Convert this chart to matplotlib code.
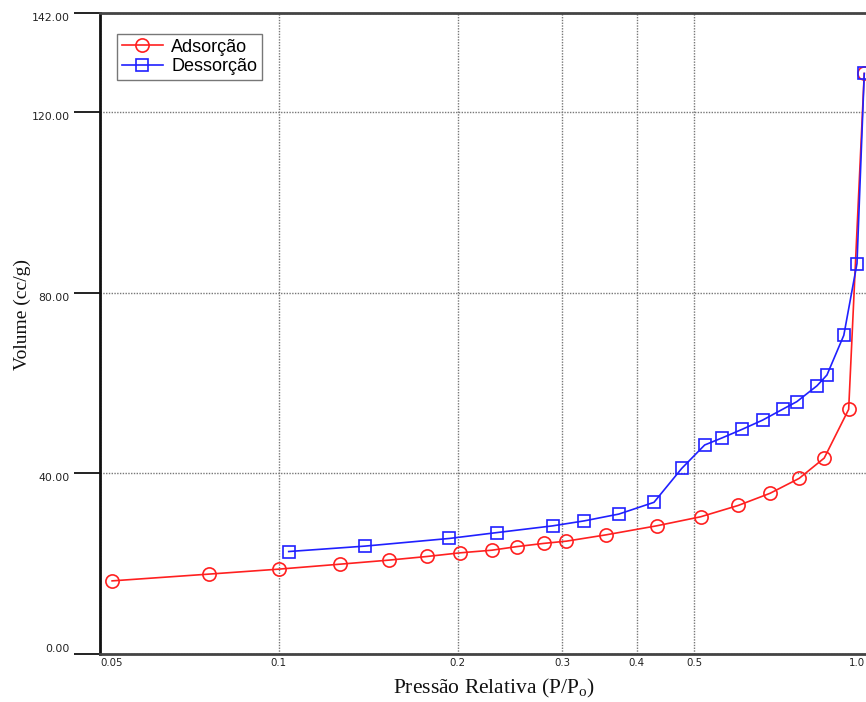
import matplotlib
matplotlib.use("Agg")
import matplotlib.pyplot as plt
import matplotlib.transforms as mtransforms
from matplotlib.ticker import FixedLocator, FixedFormatter, NullLocator

# isotherm
ads_p = [0.0524, 0.0763, 0.100, 0.1268, 0.1533, 0.1775, 0.2014, 0.2285, 0.2518,
         0.2791, 0.3048, 0.3555, 0.4326, 0.5128, 0.5929, 0.671, 0.751, 0.8277,
         0.910, 0.9667]
ads_v = [16.2, 17.7, 18.8, 19.9, 20.8, 21.6, 22.4, 23.0, 23.8,
         24.5, 25.0, 26.4, 28.4, 30.4, 32.9, 35.6, 38.9, 43.4,
         54.2, 128.6]

des_p = [0.9667, 0.9398, 0.893, 0.8365, 0.8046, 0.7443, 0.7042, 0.6517, 0.6029,
         0.5578, 0.5208, 0.4764, 0.4279, 0.3735, 0.3268, 0.2894, 0.2329, 0.1937,
         0.1396, 0.1039]
des_v = [128.6, 86.5, 70.6, 61.8, 59.4, 55.9, 54.2, 51.8, 49.8,
         47.9, 46.3, 41.1, 33.6, 31.0, 29.5, 28.4, 26.9, 25.6,
         23.9, 22.7]

x_ticks = [0.05, 0.1, 0.2, 0.3, 0.4, 0.5, 1.0]
x_tick_labels = ["0.05", "0.1", "0.2", "0.3", "0.4", "0.5", "1.0"]
y_ticks = [0, 40, 80, 120, 142]
y_tick_labels = ["0.00", "40.00", "80.00", "120.00", "142.00"]

plt.rcParams["mathtext.fontset"] = "custom"
plt.rcParams["mathtext.rm"] = "Liberation Serif"
plt.rcParams["mathtext.it"] = "Liberation Serif:italic"

W, H = 866, 702
fig = plt.figure(figsize=(W / 100, H / 100), dpi=100)
# axes runs a bit past the right edge, as in the original crop
ax = fig.add_axes([100 / W, (H - 654) / H, 773 / W, 641 / H])

red = "#ff2020"
blue = "#2020ff"
ax.plot(ads_p, ads_v, color=red, lw=1.2, marker="o", ms=9.5,
        mfc="none", mec=red, mew=1.2, label="Adsorção", zorder=3)
ax.plot(des_p, des_v, color=blue, lw=1.2, marker="s", ms=9,
        mfc="none", mec=blue, mew=1.2, label="Dessorção", zorder=3)

ax.set_xscale("log")
ax.set_xlim(0.05, 1.0)
ax.set_ylim(0, 142)

ax.xaxis.set_major_locator(FixedLocator(x_ticks))
ax.xaxis.set_major_formatter(FixedFormatter(x_tick_labels))
ax.xaxis.set_minor_locator(NullLocator())
ax.yaxis.set_major_locator(FixedLocator(y_ticks))
ax.yaxis.set_major_formatter(FixedFormatter(y_tick_labels))

ax.tick_params(axis="x", length=0, pad=3, labelsize=7.4, labelcolor="#222222")
ax.tick_params(axis="y", direction="out", length=19, width=1.4, color="#222222",
               pad=3, labelsize=7.8, labelcolor="#222222")

ax.grid(True, which="major", color="#777777", linestyle=(0, (1, 1)), lw=1.0)

xt = ax.xaxis.get_major_ticks()
xt[0].label1.set_horizontalalignment("left")
xt[-1].label1.set_horizontalalignment("right")
# pull the last label back inside the picture
shift = mtransforms.ScaledTranslation(-8 / 100, 0, fig.dpi_scale_trans)
xt[-1].label1.set_transform(xt[-1].label1.get_transform() + shift)

yt = ax.yaxis.get_major_ticks()
for tick in yt:
    tick.label1.set_verticalalignment("top")
yt[0].label1.set_verticalalignment("bottom")

ax.spines["left"].set_linewidth(2.0)
ax.spines["left"].set_color("#111111")
ax.spines["bottom"].set_linewidth(2.0)
ax.spines["bottom"].set_color("#444444")
ax.spines["top"].set_linewidth(2.0)
ax.spines["top"].set_color("#444444")
ax.spines["right"].set_visible(False)

leg = ax.legend(loc="upper left", bbox_to_anchor=(117 / W, 1 - 34 / H),
                bbox_transform=fig.transFigure, frameon=True, fancybox=False,
                edgecolor="#777777", framealpha=1, borderaxespad=0,
                handlelength=2.3, handletextpad=0.45, labelspacing=0.15,
                borderpad=0.25, prop={"family": "Liberation Sans", "size": 13})
leg.get_frame().set_linewidth(1.0)

fig.text(22 / W, 1 - 315 / H, "Volume (cc/g)", rotation=90, ha="center", va="center",
         family="Liberation Serif", fontsize=14, color="#111111")
fig.text(494 / W, 1 - 688 / H, "Pressão Relativa (P/P$_\\mathrm{o}$)", ha="center",
         va="center", family="Liberation Serif", fontsize=15.5, color="#111111")

fig.savefig("out.png", dpi=100)
